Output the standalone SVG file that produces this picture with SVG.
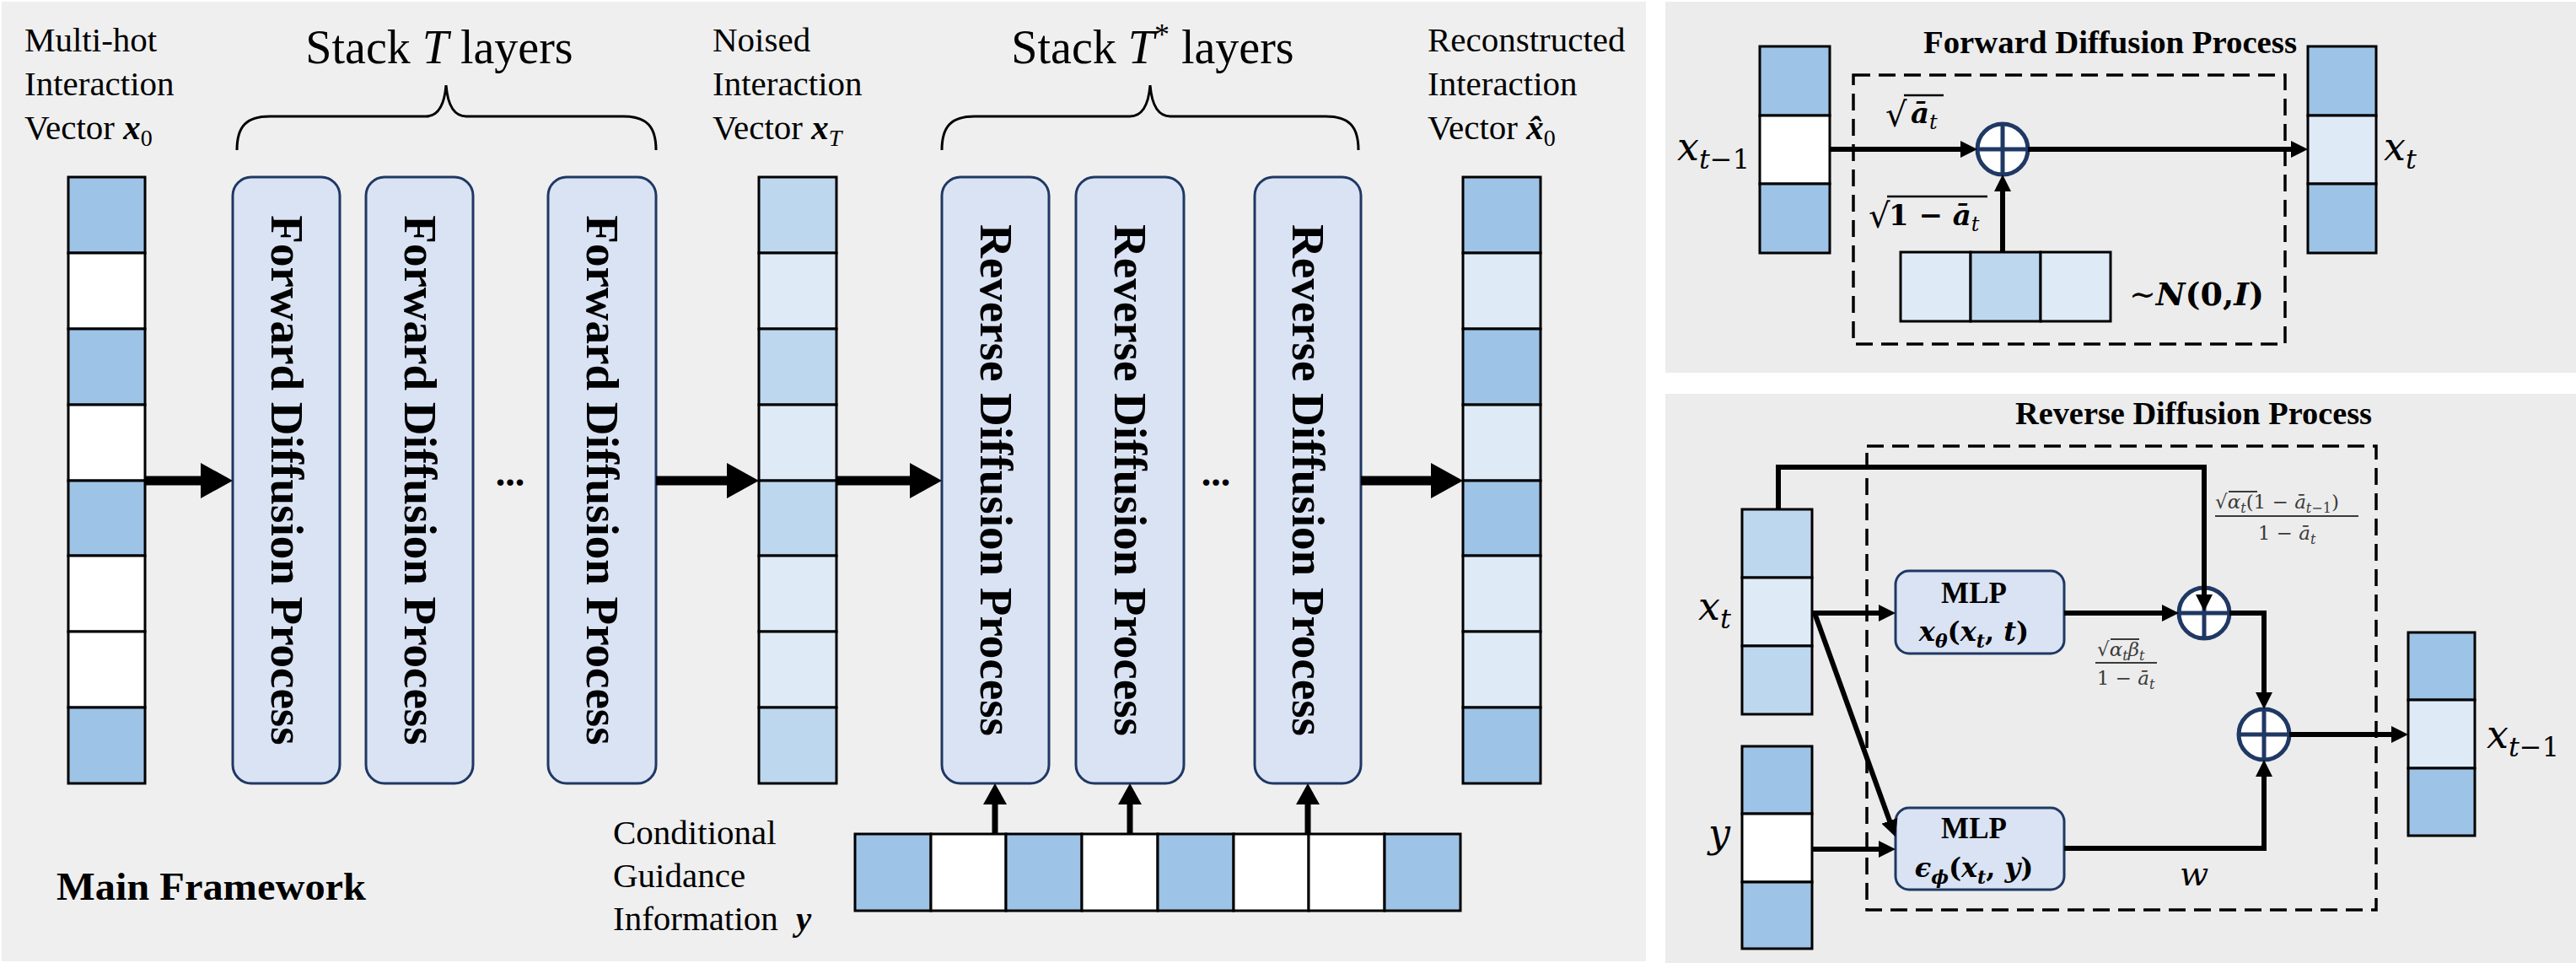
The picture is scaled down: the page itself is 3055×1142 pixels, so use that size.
<svg xmlns="http://www.w3.org/2000/svg" width="3055" height="1142" viewBox="0 0 3055 1142">
<style>
.bg{fill:#efefef}
.bg2{fill:#ececec}
.vec rect{stroke:#000;stroke-width:3}
.cb{fill:#9dc3e6}.cm{fill:#bdd7ee}.cl{fill:#deebf7}.cw{fill:#ffffff}
.box{fill:#dae3f3;stroke:#1f3864;stroke-width:3}
.sr{font-family:"Liberation Serif","Times New Roman",serif;fill:#000}
.vt{font-family:"Liberation Serif","Times New Roman",serif;font-weight:bold;font-size:55px;fill:#000}
.mt{font-family:"DejaVu Serif",serif;font-style:italic;fill:#000}
.mb{font-family:"DejaVu Serif",serif;font-style:italic;font-weight:bold;fill:#000}
.up{font-style:normal}
.frac{font-family:"DejaVu Serif",serif;font-style:italic;fill:#3a3a3a;font-size:23px}
.dash{fill:none;stroke:#000;stroke-width:3.5;stroke-dasharray:20 10}
.sum circle{fill:#fff;stroke:#1f3864;stroke-width:5}
.sum line{stroke:#1f3864;stroke-width:5}
.big{stroke:#000;stroke-width:11;fill:none;marker-end:url(#hBig)}
.mid{stroke:#000;stroke-width:7;fill:none;marker-end:url(#hMid)}
.sm{stroke:#000;stroke-width:6;fill:none;marker-end:url(#hSm)}
.bar{stroke:#000;stroke-width:2.5}
.fbar{stroke:#3a3a3a;stroke-width:2}
</style>
<defs>
<marker id="hBig" markerUnits="userSpaceOnUse" markerWidth="40" markerHeight="42" refX="10" refY="21" orient="auto"><path d="M0,0 L38,21 L0,42 z" fill="#000"/></marker>
<marker id="hMid" markerUnits="userSpaceOnUse" markerWidth="26" markerHeight="28" refX="7" refY="14" orient="auto"><path d="M0,0 L25,14 L0,28 z" fill="#000"/></marker>
<marker id="hSm" markerUnits="userSpaceOnUse" markerWidth="21" markerHeight="20" refX="6" refY="10" orient="auto"><path d="M0,0 L20,10 L0,20 z" fill="#000"/></marker>
</defs>

<!-- panels -->
<rect class="bg" x="2" y="2" width="1950" height="1138"/>
<rect class="bg2" x="1975" y="2" width="1080" height="440"/>
<rect class="bg2" x="1975" y="467" width="1080" height="675"/>

<!-- ================= MAIN FRAMEWORK ================= -->
<g id="x0-vector" class="vec">
<rect class="cb" x="81" y="210" width="91" height="90"/>
<rect class="cw" x="81" y="300" width="91" height="90"/>
<rect class="cb" x="81" y="390" width="91" height="90"/>
<rect class="cw" x="81" y="480" width="91" height="90"/>
<rect class="cb" x="81" y="570" width="91" height="89"/>
<rect class="cw" x="81" y="659" width="91" height="90"/>
<rect class="cw" x="81" y="749" width="91" height="90"/>
<rect class="cb" x="81" y="839" width="91" height="90"/>
</g>
<g id="x0-label" class="sr" font-size="41">
<text x="29" y="61">Multi-hot</text>
<text x="29" y="113">Interaction</text>
<text x="29" y="165">Vector <tspan font-weight="bold" font-style="italic">x</tspan><tspan font-size="28" dy="8">0</tspan></text>
</g>

<g id="stack-T">
<text class="sr" x="521" y="75" font-size="56" text-anchor="middle">Stack <tspan font-style="italic">T</tspan> layers</text>
<path d="M281,178 C281,150 292,138 320,138 L505,138 C520,138 527,125 529,101 C531,125 538,138 553,138 L739,138 C767,138 778,150 778,178" fill="none" stroke="#000" stroke-width="3"/>
</g>

<g id="fwd1"><rect class="box" x="276" y="210" width="127" height="719" rx="22"/>
<text class="vt" transform="translate(339.5,569.5) rotate(90)" y="18" text-anchor="middle">Forward Diffusion Process</text></g>
<g id="fwd2"><rect class="box" x="434" y="210" width="127" height="719" rx="22"/>
<text class="vt" transform="translate(497.5,569.5) rotate(90)" y="18" text-anchor="middle">Forward Diffusion Process</text></g>
<g id="fwd3"><rect class="box" x="650" y="210" width="128" height="719" rx="22"/>
<text class="vt" transform="translate(714,569.5) rotate(90)" y="18" text-anchor="middle">Forward Diffusion Process</text></g>
<text class="sr" x="605" y="576" font-size="46" font-weight="bold" text-anchor="middle">...</text>

<g id="xT-vector" class="vec">
<rect class="cm" x="900" y="210" width="92" height="90"/>
<rect class="cl" x="900" y="300" width="92" height="90"/>
<rect class="cm" x="900" y="390" width="92" height="90"/>
<rect class="cl" x="900" y="480" width="92" height="90"/>
<rect class="cm" x="900" y="570" width="92" height="89"/>
<rect class="cl" x="900" y="659" width="92" height="90"/>
<rect class="cl" x="900" y="749" width="92" height="90"/>
<rect class="cm" x="900" y="839" width="92" height="90"/>
</g>
<g id="xT-label" class="sr" font-size="41">
<text x="845" y="61">Noised</text>
<text x="845" y="113">Interaction</text>
<text x="845" y="165">Vector <tspan font-weight="bold" font-style="italic">x</tspan><tspan font-size="28" dy="8" font-style="italic">T</tspan></text>
</g>

<g id="stack-Tstar">
<text class="sr" x="1367" y="75" font-size="56" text-anchor="middle">Stack <tspan font-style="italic">T</tspan><tspan font-size="36" dy="-22">*</tspan><tspan dy="22"> layers</tspan></text>
<path d="M1117,178 C1117,150 1128,138 1156,138 L1340,138 C1355,138 1362,125 1364,101 C1366,125 1373,138 1388,138 L1572,138 C1600,138 1611,150 1611,178" fill="none" stroke="#000" stroke-width="3"/>
</g>

<g id="rev1"><rect class="box" x="1117" y="210" width="127" height="719" rx="22"/>
<text class="vt" transform="translate(1180.5,569.5) rotate(90)" y="18" text-anchor="middle">Reverse Diffusion Process</text></g>
<g id="rev2"><rect class="box" x="1276" y="210" width="128" height="719" rx="22"/>
<text class="vt" transform="translate(1340,569.5) rotate(90)" y="18" text-anchor="middle">Reverse Diffusion Process</text></g>
<g id="rev3"><rect class="box" x="1488" y="210" width="126" height="719" rx="22"/>
<text class="vt" transform="translate(1551,569.5) rotate(90)" y="18" text-anchor="middle">Reverse Diffusion Process</text></g>
<text class="sr" x="1442" y="576" font-size="46" font-weight="bold" text-anchor="middle">...</text>

<g id="x0hat-vector" class="vec">
<rect class="cb" x="1735" y="210" width="92" height="90"/>
<rect class="cl" x="1735" y="300" width="92" height="90"/>
<rect class="cb" x="1735" y="390" width="92" height="90"/>
<rect class="cl" x="1735" y="480" width="92" height="90"/>
<rect class="cb" x="1735" y="570" width="92" height="89"/>
<rect class="cl" x="1735" y="659" width="92" height="90"/>
<rect class="cl" x="1735" y="749" width="92" height="90"/>
<rect class="cb" x="1735" y="839" width="92" height="90"/>
</g>
<g id="x0hat-label" class="sr" font-size="41">
<text x="1693" y="61">Reconstructed</text>
<text x="1693" y="113">Interaction</text>
<text x="1693" y="165">Vector <tspan font-weight="bold" font-style="italic">x̂</tspan><tspan font-size="28" dy="8">0</tspan></text>
</g>

<g id="cond-vector" class="vec">
<rect class="cb" x="1014" y="989" width="90" height="91"/>
<rect class="cw" x="1104" y="989" width="89" height="91"/>
<rect class="cb" x="1193" y="989" width="90" height="91"/>
<rect class="cw" x="1283" y="989" width="90" height="91"/>
<rect class="cb" x="1373" y="989" width="90" height="91"/>
<rect class="cw" x="1463" y="989" width="89" height="91"/>
<rect class="cw" x="1552" y="989" width="90" height="91"/>
<rect class="cb" x="1642" y="989" width="90" height="91"/>
</g>
<g id="cond-label" class="sr" font-size="41">
<text x="727" y="1001">Conditional</text>
<text x="727" y="1052">Guidance</text>
<text x="727" y="1103">Information <tspan x="944" font-weight="bold" font-style="italic">y</tspan></text>
</g>

<text id="main-title" class="sr" x="67" y="1067" font-size="47" font-weight="bold" textLength="367" lengthAdjust="spacingAndGlyphs">Main Framework</text>

<g id="main-connectors">
<line class="big" x1="172" y1="570" x2="248" y2="570"/>
<line class="big" x1="778" y1="570" x2="872" y2="570"/>
<line class="big" x1="992" y1="570" x2="1089" y2="570"/>
<line class="big" x1="1614" y1="570" x2="1707" y2="570"/>
<line class="mid" x1="1180" y1="989" x2="1180" y2="947"/>
<line class="mid" x1="1340" y1="989" x2="1340" y2="947"/>
<line class="mid" x1="1551" y1="989" x2="1551" y2="947"/>
</g>

<!-- ================= FORWARD DIFFUSION PROCESS PANEL ================= -->
<text id="fwd-title" class="sr" x="2281" y="63" font-size="38" font-weight="bold" textLength="443" lengthAdjust="spacingAndGlyphs">Forward Diffusion Process</text>
<rect id="fwd-dash" class="dash" x="2198" y="89" width="512" height="319"/>

<g id="f-xt1-vector" class="vec">
<rect class="cb" x="2087" y="55" width="83" height="82"/>
<rect class="cw" x="2087" y="137" width="83" height="81"/>
<rect class="cb" x="2087" y="218" width="83" height="82"/>
</g>
<text id="f-xt1-label" class="mt" x="1989" y="190" font-size="46">x<tspan font-size="32" dy="10">t</tspan><tspan font-size="32" class="up">−1</tspan></text>

<g id="f-xt-vector" class="vec">
<rect class="cb" x="2737" y="55" width="81" height="82"/>
<rect class="cl" x="2737" y="137" width="81" height="81"/>
<rect class="cb" x="2737" y="218" width="81" height="82"/>
</g>
<text id="f-xt-label" class="mt" x="2827" y="190" font-size="46">x<tspan font-size="32" dy="10">t</tspan></text>

<g id="f-noise-vector" class="vec">
<rect class="cl" x="2254" y="299" width="83" height="82"/>
<rect class="cm" x="2337" y="299" width="83" height="82"/>
<rect class="cl" x="2420" y="299" width="83" height="82"/>
</g>
<text id="f-noise-label" class="mb" x="2525" y="362" font-size="38"><tspan class="up" font-weight="normal">∼</tspan>N<tspan class="up">(0,</tspan>I<tspan class="up">)</tspan></text>

<g id="f-sum" class="sum">
<circle cx="2375" cy="177" r="30"/>
<line x1="2345" y1="177" x2="2405" y2="177"/>
<line x1="2375" y1="147" x2="2375" y2="207"/>
</g>

<g id="f-coef1">
<text class="mt" x="2236" y="150" font-size="40"><tspan class="up" font-weight="normal">√</tspan></text>
<line class="bar" x1="2258" y1="113" x2="2305" y2="113"/>
<text class="mb" x="2266" y="146" font-size="34">ā<tspan class="mt" font-weight="normal" font-size="24" dy="7">t</tspan></text>
</g>
<g id="f-coef2">
<text class="mt" x="2216" y="270" font-size="40"><tspan class="up">√</tspan></text>
<line class="bar" x1="2238" y1="233" x2="2357" y2="233"/>
<text class="mb" x="2240" y="267" font-size="34"><tspan class="up">1 − </tspan>ā<tspan class="mt" font-weight="normal" font-size="24" dy="7">t</tspan></text>
</g>

<g id="fwd-connectors">
<line class="sm" x1="2170" y1="177" x2="2331" y2="177"/>
<line class="sm" x1="2405" y1="177" x2="2723" y2="177"/>
<line class="sm" x1="2375" y1="299" x2="2375" y2="221"/>
</g>

<!-- ================= REVERSE DIFFUSION PROCESS PANEL ================= -->
<text id="rev-title" class="sr" x="2390" y="503" font-size="38" font-weight="bold" textLength="423" lengthAdjust="spacingAndGlyphs">Reverse Diffusion Process</text>
<rect id="rev-dash" class="dash" x="2214" y="529" width="604" height="550"/>

<g id="r-xt-vector" class="vec">
<rect class="cm" x="2066" y="604" width="83" height="81"/>
<rect class="cl" x="2066" y="685" width="83" height="81"/>
<rect class="cm" x="2066" y="766" width="83" height="81"/>
</g>
<text id="r-xt-label" class="mt" x="2014" y="735" font-size="46">x<tspan font-size="32" dy="10">t</tspan></text>

<g id="r-y-vector" class="vec">
<rect class="cb" x="2066" y="885" width="83" height="80"/>
<rect class="cw" x="2066" y="965" width="83" height="81"/>
<rect class="cb" x="2066" y="1046" width="83" height="79"/>
</g>
<text id="r-y-label" class="mt" x="2026" y="1004" font-size="46">y</text>

<g id="mlp1">
<rect class="box" x="2248" y="677" width="200" height="98" rx="16"/>
<text class="sr" x="2341" y="715" font-size="35" font-weight="bold" text-anchor="middle">MLP</text>
<text class="mb" x="2341" y="760" font-size="32" text-anchor="middle">x<tspan font-size="22" dy="8">θ</tspan><tspan class="up" dy="-8">(</tspan>x<tspan font-size="22" dy="8">t</tspan><tspan class="up" dy="-8">, </tspan>t<tspan class="up">)</tspan></text>
</g>
<g id="mlp2">
<rect class="box" x="2248" y="958" width="200" height="97" rx="16"/>
<text class="sr" x="2341" y="994" font-size="35" font-weight="bold" text-anchor="middle">MLP</text>
<text class="mb" x="2341" y="1040" font-size="32" text-anchor="middle">ϵ<tspan font-size="22" dy="8">ϕ</tspan><tspan class="up" dy="-8">(</tspan>x<tspan font-size="22" dy="8">t</tspan><tspan class="up" dy="-8">, </tspan>y<tspan class="up">)</tspan></text>
</g>

<g id="r-sum1" class="sum">
<circle cx="2614" cy="727" r="30"/>
<line x1="2584" y1="727" x2="2644" y2="727"/>
<line x1="2614" y1="697" x2="2614" y2="757"/>
</g>
<g id="r-sum2" class="sum">
<circle cx="2685" cy="871" r="30"/>
<line x1="2655" y1="871" x2="2715" y2="871"/>
<line x1="2685" y1="841" x2="2685" y2="901"/>
</g>

<g id="r-xt1-vector" class="vec">
<rect class="cb" x="2856" y="750" width="79" height="80"/>
<rect class="cl" x="2856" y="830" width="79" height="81"/>
<rect class="cb" x="2856" y="911" width="79" height="80"/>
</g>
<text id="r-xt1-label" class="mt" x="2949" y="887" font-size="46">x<tspan font-size="32" dy="10">t</tspan><tspan font-size="32" class="up">−1</tspan></text>

<g id="r-coef1">
<text class="frac" x="2627" y="603"><tspan class="up">√</tspan>α<tspan font-size="16" dy="5">t</tspan><tspan class="up" dy="-5">(1 − </tspan>ā<tspan font-size="16" dy="5">t</tspan><tspan class="up" font-size="16">−1</tspan><tspan class="up" dy="-5">)</tspan></text>
<line class="fbar" x1="2643" y1="583" x2="2677" y2="583"/>
<line class="fbar" x1="2627" y1="612" x2="2797" y2="612"/>
<text class="frac" x="2712" y="640" text-anchor="middle"><tspan class="up">1 − </tspan>ā<tspan font-size="16" dy="5">t</tspan></text>
</g>
<g id="r-coef2">
<text class="frac" x="2487" y="778"><tspan class="up">√</tspan>α<tspan font-size="16" dy="5">t</tspan><tspan dy="-5">β</tspan><tspan font-size="16" dy="5">t</tspan></text>
<line class="fbar" x1="2503" y1="758" x2="2537" y2="758"/>
<line class="fbar" x1="2485" y1="786" x2="2558" y2="786"/>
<text class="frac" x="2521" y="812" text-anchor="middle"><tspan class="up">1 − </tspan>ā<tspan font-size="16" dy="5">t</tspan></text>
</g>
<text id="r-w" class="mt" x="2585" y="1050" font-size="40">w</text>

<g id="rev-connectors">
<path class="sm" d="M2109,604 V554 H2614 V711"/>
<line class="sm" x1="2150" y1="727" x2="2234" y2="727"/>
<line class="sm" x1="2152" y1="727" x2="2243" y2="979"/>
<line class="sm" x1="2150" y1="1007" x2="2234" y2="1007"/>
<line class="sm" x1="2448" y1="727" x2="2570" y2="727"/>
<path class="sm" d="M2644,727 H2685 V827"/>
<path class="sm" d="M2448,1006 H2685 V915"/>
<line class="sm" x1="2715" y1="871" x2="2842" y2="871"/>
</g>
</svg>
